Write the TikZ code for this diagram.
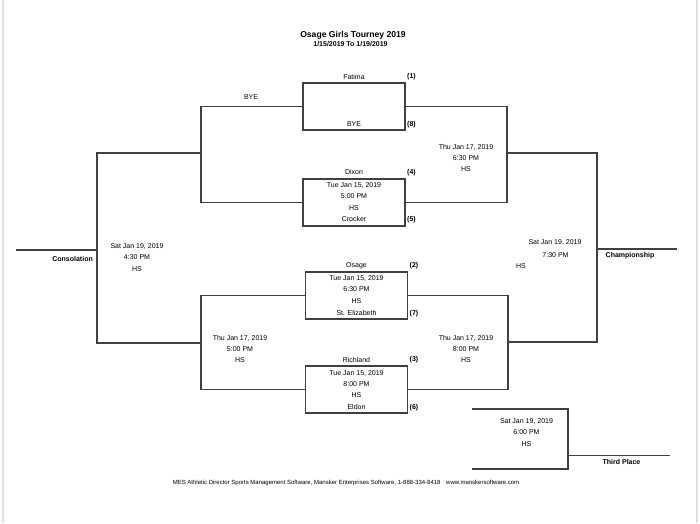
\documentclass[tikz,border=0pt]{standalone}
\usepackage{fontspec}
\setmainfont{Liberation Sans}
\usetikzlibrary{calc}

\begin{document}
\begin{tikzpicture}[x=1pt,y=-1pt,
    bracket/.style={draw=black!75, line width=1.2pt},
    matchbox/.style={rectangle, draw=black!75, line width=1.2pt, minimum width=102pt, minimum height=47pt, inner sep=0pt, outer sep=0pt},
    team/.style={font=\fontsize{7}{8}\selectfont, inner sep=0pt},
    seed/.style={font=\fontsize{7}{8}\selectfont\bfseries, inner sep=0pt, anchor=west},
    info/.style={font=\fontsize{7}{11.4}\selectfont, align=center, inner sep=0pt},
    place/.style={font=\fontsize{7}{8}\selectfont\bfseries, inner sep=0pt}
    ]
  \useasboundingbox (0,0) rectangle (700,523);
  \draw[black!12, line width=2pt] (3,0) -- (3,523);
  \draw[black!12, line width=2pt] (697,0) -- (697,523);
  % title
  \node[font=\fontsize{8.6}{10}\selectfont\bfseries, inner sep=0pt] (Title) at (353,35) {Osage Girls Tourney 2019};
  \node[font=\fontsize{7}{8}\selectfont\bfseries, inner sep=0pt] (Dates) at (350.5,44.5) {1/15/2019 To 1/19/2019};
  \begin{scope}
    % nodes
    \node[matchbox] (B18) at (354,106.5) {};
    \node[matchbox] (B45) at (354,202.5) {};
    \node[matchbox] (B27) at (356.5,295.5) {};
    \node[matchbox] (B36) at (356.5,389.5) {};
    \node[team] (Fatima) at ($(B18.north)+(0,-6.5)$) {Fatima};
    \node[seed] (S1) at ($(B18.north east)+(2,-6.5)$) {(1)};
    \node[team] (Bye8) at ($(B18.south)+(0,-6)$) {BYE};
    \node[seed] (S8) at ($(B18.south east)+(2,-5)$) {(8)};
    \node[team] (Dixon) at ($(B45.north)+(0,-7)$) {Dixon};
    \node[seed] (S4) at ($(B45.north east)+(2,-6.5)$) {(4)};
    \node[info] (G45) at ($(B45.north)+(0,17.5)$) {Tue Jan 15, 2019\\5:00 PM\\HS};
    \node[team] (Crocker) at ($(B45.south)+(0,-7)$) {Crocker};
    \node[seed] (S5) at ($(B45.south east)+(2,-6)$) {(5)};
    \node[team] (Osage) at ($(B27.north)+(0,-6.5)$) {Osage};
    \node[seed] (S2) at ($(B27.north east)+(2,-6)$) {(2)};
    \node[info] (G27) at ($(B27.north)+(0,17.5)$) {Tue Jan 15, 2019\\6:30 PM\\HS};
    \node[team] (StEliz) at ($(B27.south)+(0,-6.5)$) {St. Elizabeth};
    \node[seed] (S7) at ($(B27.south east)+(2,-5.5)$) {(7)};
    \node[team] (Richland) at ($(B36.north)+(0,-6.5)$) {Richland};
    \node[seed] (S3) at ($(B36.north east)+(2,-6.5)$) {(3)};
    \node[info] (G36) at ($(B36.north)+(0,18)$) {Tue Jan 15, 2019\\8:00 PM\\HS};
    \node[team] (Eldon) at ($(B36.south)+(0,-6)$) {Eldon};
    \node[seed] (S6) at ($(B36.south east)+(2,-5)$) {(6)};
    \node[team] (Bye) at (251,97.5) {BYE};
    % later rounds
    \node[info] (G1) at (466,158) {Thu Jan 17, 2019\\6:30 PM\\HS};
    \node[info] (G2) at (240,349) {Thu Jan 17, 2019\\5:00 PM\\HS};
    \node[info] (G3) at (466,349) {Thu Jan 17, 2019\\8:00 PM\\HS};
    \node[info] (G4) at (137,257.5) {Sat Jan 19, 2019\\4:30 PM\\HS};
    \node[team] (G5d) at (555,242.5) {Sat Jan 19, 2019};
    \node[team] (G5t) at (555.5,255) {7:30 PM};
    \node[team] (G5h) at (521,266.5) {HS};
    \node[info] (G6) at (526.5,432.5) {Sat Jan 19, 2019\\6:00 PM\\HS};
    \node[place, anchor=east] (Cons) at (93,259) {Consolation};
    \node[place, anchor=west] (Champ) at (605.5,256) {Championship};
    \node[place] (Third) at (621.5,462) {Third Place};
    % joints
    \coordinate (J1) at (201,153);
    \coordinate (J2) at (201,343);
    \coordinate (J3) at (97,250);
    \coordinate (J4) at (507,153);
    \coordinate (J5) at (508,342);
    \coordinate (J6) at (597,249);
    \coordinate (J7) at (568,455.5);
    \coordinate (T1) at (472,409);
    \coordinate (T2) at (472,469);
    \coordinate (ConsEnd) at (16,250);
    \coordinate (ChampEnd) at (677,249);
    \coordinate (ThirdEnd) at (670,455.5);
    % lines
    \draw[bracket] (B18.west) -| (J1) |- (B45.west);
    \draw[bracket] (B27.west) -| (J2) |- (B36.west);
    \draw[bracket] (J1) -| (J3) |- (J2);
    \draw[bracket] (J3) -- (ConsEnd);
    \draw[bracket] (B18.east) -| (J4) |- (B45.east);
    \draw[bracket] (B27.east) -| (J5) |- (B36.east);
    \draw[bracket] (J4) -| (J6) |- (J5);
    \draw[bracket] (J6) -- (ChampEnd);
    \draw[bracket] (T1) -| (J7) |- (T2);
    \draw[bracket] (J7) -- (ThirdEnd);
  \end{scope}
  % footer
  \node[font=\fontsize{6}{7}\selectfont, inner sep=0pt] (Footer) at (346,482.5) {MES Athletic Director Sports Management Software, Mansker Enterprises Software, 1-888-334-8418\hspace{4pt} www.manskersoftware.com};
\end{tikzpicture}
\end{document}
